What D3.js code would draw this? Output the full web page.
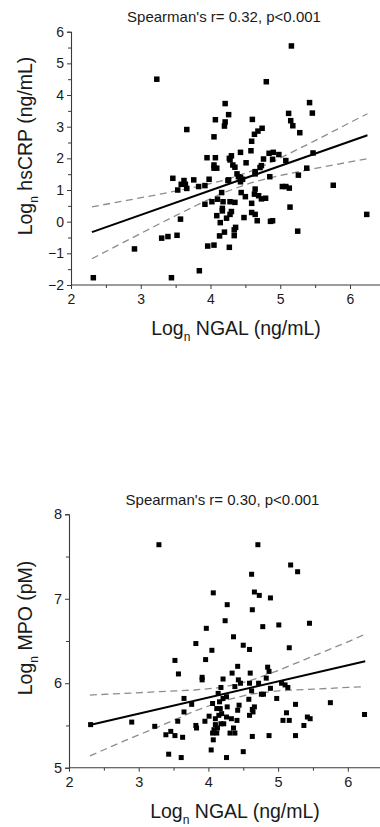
<!DOCTYPE html>
<html>
<head>
<meta charset="utf-8">
<script src="https://cdn.jsdelivr.net/npm/d3@7"></script>
<style>
  html, body { margin: 0; padding: 0; background: #fff; }
  svg { display: block; font-family: "Liberation Sans", Arial, sans-serif; }
</style>
</head>
<body>
<svg id="chart" width="380" height="827"></svg>
<script>
// ln NGAL vs ln hsCRP (upper panel)
const crpPoints = [
  [3.23, 4.50], [4.21, 3.73], [4.26, 3.38], [4.07, 3.22], [4.21, 3.15], [4.20, 3.02],
  [3.66, 2.91], [4.05, 2.68], [3.95, 2.02], [4.07, 2.02], [4.27, 2.00], [4.05, 1.79],
  [4.05, 1.69], [4.09, 1.69], [3.46, 1.37], [3.62, 1.30], [3.76, 1.32], [3.58, 1.18],
  [3.64, 1.18], [3.53, 1.00], [3.66, 1.05], [3.83, 1.11], [3.92, 1.14], [3.98, 1.34],
  [4.25, 1.30], [4.16, 0.92], [4.10, 0.71], [4.02, 0.63], [3.92, 0.55], [4.17, 0.42],
  [4.17, 0.34], [4.09, 0.19], [4.14, -0.03], [4.23, 0.11], [3.57, 0.08], [3.30, -0.52],
  [3.39, -0.47], [3.52, -0.43], [4.20, -0.33], [4.13, -0.45], [2.91, -0.86], [3.96, -0.77],
  [4.05, -0.74], [4.27, -0.81], [2.32, -1.77], [3.44, -1.77], [3.84, -1.55],
  [5.16, 5.55], [4.80, 4.42], [5.42, 3.76], [5.46, 3.43], [5.12, 3.42], [5.15, 3.19],
  [5.18, 3.03], [5.28, 2.81], [4.60, 3.23], [4.74, 2.95], [4.68, 2.86], [4.63, 2.76],
  [4.59, 2.54], [4.58, 2.24], [4.43, 2.19], [4.30, 2.08], [4.28, 1.95], [4.32, 1.79],
  [4.35, 1.72], [4.51, 1.86], [4.76, 1.98], [4.84, 2.16], [4.90, 2.19], [4.98, 2.12],
  [4.89, 1.97], [5.08, 1.93], [5.47, 2.17], [4.73, 1.77], [4.71, 1.71], [5.38, 1.69],
  [4.64, 1.58], [4.64, 1.51], [4.38, 1.51], [4.40, 1.42], [4.43, 1.40], [4.46, 1.34],
  [4.26, 1.32], [4.43, 1.26], [4.85, 1.42], [5.26, 1.47], [4.64, 1.03], [5.03, 1.11],
  [5.08, 1.11], [5.13, 1.06], [5.76, 1.15], [4.44, 0.92], [4.63, 0.87], [4.69, 0.82],
  [4.50, 0.79], [4.73, 0.72], [4.79, 0.74], [4.28, 0.63], [4.35, 0.61], [4.18, 0.63],
  [4.59, 0.58], [4.30, 0.32], [4.28, 0.23], [4.59, 0.29], [4.64, 0.23], [5.14, 0.46],
  [4.48, 0.13], [4.67, 0.03], [4.86, 0.01], [4.89, 0.03], [4.36, -0.18], [4.34, -0.26],
  [4.34, -0.44], [5.25, -0.30], [6.24, 0.23]
];
const crpFit = [[2.3, -0.33], [6.25, 2.73]];
const crpUpper = [0.47, 0.67, 0.88, 1.10, 1.31, 1.61, 2.01, 2.56, 3.13, 3.41];
const crpLower = [-1.17, -0.60, -0.03, 0.52, 0.93, 1.24, 1.46, 1.68, 1.89, 1.99];

// ln NGAL vs ln MPO (lower panel)
const mpoPoints = [
  [3.29, 7.64], [4.07, 7.07], [4.27, 6.93], [4.24, 6.74], [3.97, 6.65], [3.82, 6.47],
  [4.05, 6.39], [3.52, 6.27], [3.96, 6.28], [3.57, 6.11], [3.91, 6.07], [3.91, 6.04],
  [4.21, 6.05], [4.18, 5.95], [3.65, 5.82], [3.76, 5.75], [4.06, 5.76], [3.65, 5.66],
  [4.01, 5.61], [3.95, 5.55], [2.90, 5.54], [3.56, 5.55], [3.23, 5.49], [3.82, 5.50],
  [3.83, 5.47], [2.31, 5.51], [4.10, 5.51], [4.08, 5.45], [3.46, 5.43], [3.39, 5.39],
  [3.52, 5.38], [3.63, 5.36], [4.06, 5.41], [4.12, 5.41], [4.07, 5.33], [4.04, 5.21],
  [3.43, 5.16], [3.61, 5.12], [4.26, 5.12],
  [4.71, 7.64], [5.18, 7.40], [5.28, 7.32], [4.62, 7.29], [4.66, 7.08], [4.73, 7.04],
  [4.89, 7.01], [4.63, 6.87], [4.78, 6.67], [5.01, 6.69], [5.45, 6.71], [4.36, 6.55],
  [4.50, 6.45], [4.59, 6.40], [5.16, 6.42], [4.42, 6.20], [4.34, 6.12], [4.60, 6.12],
  [4.85, 6.19], [4.87, 6.14], [4.43, 6.04], [4.46, 6.00], [4.38, 5.96], [4.59, 6.00],
  [4.72, 6.00], [4.83, 6.06], [5.05, 6.00], [5.10, 5.98], [5.14, 5.95], [4.62, 5.91],
  [4.89, 5.94], [4.76, 5.87], [4.79, 5.87], [4.98, 5.82], [4.58, 5.81], [4.26, 5.84],
  [4.21, 5.82], [5.25, 5.75], [5.75, 5.77], [4.27, 5.72], [4.44, 5.74], [4.42, 5.68],
  [4.66, 5.72], [4.63, 5.69], [4.64, 5.66], [4.17, 5.70], [5.12, 5.65], [4.19, 5.64],
  [4.26, 5.60], [4.33, 5.58], [4.41, 5.56], [4.59, 5.62], [5.42, 5.60], [5.46, 5.58],
  [5.07, 5.56], [5.16, 5.56], [4.36, 5.47], [5.37, 5.50], [4.31, 5.41], [4.38, 5.41],
  [4.63, 5.37], [4.87, 5.38], [5.25, 5.38], [6.24, 5.63], [4.50, 5.19],
  [4.14, 5.88], [4.16, 5.78], [4.12, 5.70], [4.15, 5.62], [4.18, 5.52], [4.10, 5.58],
  [4.22, 5.52], [4.13, 5.47]
];
const mpoFit = [[2.3, 5.505], [6.25, 6.26]];
const mpoUpper = [5.86, 5.88, 5.90, 5.92, 5.95, 6.03, 6.15, 6.32, 6.49, 6.58];
const mpoLower = [5.14, 5.32, 5.49, 5.67, 5.79, 5.87, 5.91, 5.93, 5.95, 5.96];

const ciX = [2.3, 2.8, 3.3, 3.8, 4.2, 4.6, 5.0, 5.5, 6.0, 6.25];
const xTicks = [2, 3, 4, 5, 6];
const xMinor = [2.5, 3.5, 4.5, 5.5];
const crpTicks = [-2, -1, 0, 1, 2, 3, 4, 5, 6];
const crpMinor = [-1.5, -0.5, 0.5, 1.5, 2.5, 3.5, 4.5, 5.5];
const mpoTicks = [5, 6, 7, 8];
const mpoMinor = [5.5, 6.5, 7.5];

const svg = d3.select('#chart');

function drawPanel(cfg) {
  const g = svg.append('g');
  const x = d3.scaleLinear().domain([2, 6.5]).range([cfg.left, cfg.left + 4.5 * cfg.xUnit]);
  const y = d3.scaleLinear().domain(cfg.yDomain).range([cfg.bottom, cfg.top]);
  const axisColor = '#3a3a3a';

  // axes
  const xAxis = g.append('g')
    .attr('transform', `translate(0,${cfg.bottom})`)
    .call(d3.axisBottom(x).tickValues(xTicks).tickSize(4).tickPadding(4).tickFormat(d3.format('d')));
  g.append('g')
    .attr('transform', `translate(0,${cfg.bottom})`)
    .call(d3.axisBottom(x).tickValues(xMinor).tickSize(3).tickFormat(''))
    .call((s) => s.select('.domain').remove());
  const yAxis = g.append('g')
    .attr('transform', `translate(${cfg.left},0)`)
    .call(d3.axisLeft(y).tickValues(cfg.yTicks).tickSize(4).tickPadding(3).tickFormat(d3.format('d')));
  g.append('g')
    .attr('transform', `translate(${cfg.left},0)`)
    .call(d3.axisLeft(y).tickValues(cfg.yMinor).tickSize(3).tickFormat(''))
    .call((s) => s.select('.domain').remove());

  xAxis.select('.domain').attr('d', `M${cfg.left},0H400`);
  g.selectAll('.domain').attr('stroke', axisColor).attr('stroke-width', 1.1);
  g.selectAll('.tick line').attr('stroke', axisColor);
  g.selectAll('.tick text')
    .attr('font-size', cfg.tickFont)
    .attr('fill', '#1a1a1a')
    .attr('font-family', '"Liberation Sans", Arial, sans-serif');
  xAxis.selectAll('.tick text').attr('dy', '0.75em');

  // confidence bands
  const line = d3.line().x((d) => x(d[0])).y((d) => y(d[1]));
  [cfg.upper, cfg.lower].forEach((band) => {
    g.append('path')
      .attr('d', line(ciX.map((v, i) => [v, band[i]])))
      .attr('fill', 'none')
      .attr('stroke', '#8c8c8c')
      .attr('stroke-width', 1.3)
      .attr('stroke-dasharray', '7 4.5');
  });

  // points
  g.append('g')
    .selectAll('rect')
    .data(cfg.points)
    .join('rect')
    .attr('x', (d) => x(d[0]) - cfg.marker / 2)
    .attr('y', (d) => y(d[1]) - cfg.marker / 2)
    .attr('width', cfg.marker)
    .attr('height', cfg.marker)
    .attr('fill', '#000');

  // fit line
  g.append('path')
    .attr('d', line(cfg.fit))
    .attr('fill', 'none')
    .attr('stroke', '#000')
    .attr('stroke-width', 2);

  // title
  g.append('text')
    .attr('x', cfg.titleX)
    .attr('y', cfg.titleY)
    .attr('text-anchor', 'middle')
    .attr('font-size', 15)
    .attr('fill', '#1a1a1a')
    .text(cfg.title);

  // x label
  const xl = g.append('text')
    .attr('x', cfg.xLabelX)
    .attr('y', cfg.xLabelY)
    .attr('text-anchor', 'middle')
    .attr('font-size', cfg.labelFont)
    .attr('fill', '#1a1a1a');
  xl.append('tspan').text('Log');
  xl.append('tspan').attr('font-size', cfg.labelFont * 0.62).attr('dy', 6).text('n');
  xl.append('tspan').attr('dy', -6).text(' NGAL (ng/mL)');

  // y label
  const yl = g.append('text')
    .attr('transform', `translate(${cfg.yLabelX},${cfg.yLabelY}) rotate(-90)`)
    .attr('text-anchor', 'middle')
    .attr('font-size', cfg.labelFont)
    .attr('fill', '#1a1a1a');
  yl.append('tspan').text('Log');
  yl.append('tspan').attr('font-size', cfg.labelFont * 0.62).attr('dy', 6).text('n');
  yl.append('tspan').attr('dy', -6).text(cfg.yLabel);
}

drawPanel({
  left: 71, xUnit: 69.75, top: 31.7, bottom: 285, yDomain: [-2, 6],
  yTicks: crpTicks, yMinor: crpMinor, tickFont: 14, labelFont: 19.5, marker: 5.5,
  points: crpPoints, fit: crpFit, upper: crpUpper, lower: crpLower,
  title: "Spearman's r= 0.32, p<0.001", titleX: 224, titleY: 21.5,
  xLabelX: 236, xLabelY: 335, yLabelX: 32, yLabelY: 146, yLabel: ' hsCRP (ng/mL)'
});

drawPanel({
  left: 69, xUnit: 69.7, top: 514.3, bottom: 767.7, yDomain: [5, 8],
  yTicks: mpoTicks, yMinor: mpoMinor, tickFont: 14.5, labelFont: 19.5, marker: 5,
  points: mpoPoints, fit: mpoFit, upper: mpoUpper, lower: mpoLower,
  title: "Spearman's r= 0.30, p<0.001", titleX: 222.5, titleY: 505,
  xLabelX: 235, xLabelY: 818, yLabelX: 32, yLabelY: 628, yLabel: ' MPO (pM)'
});
</script>
</body>
</html>
